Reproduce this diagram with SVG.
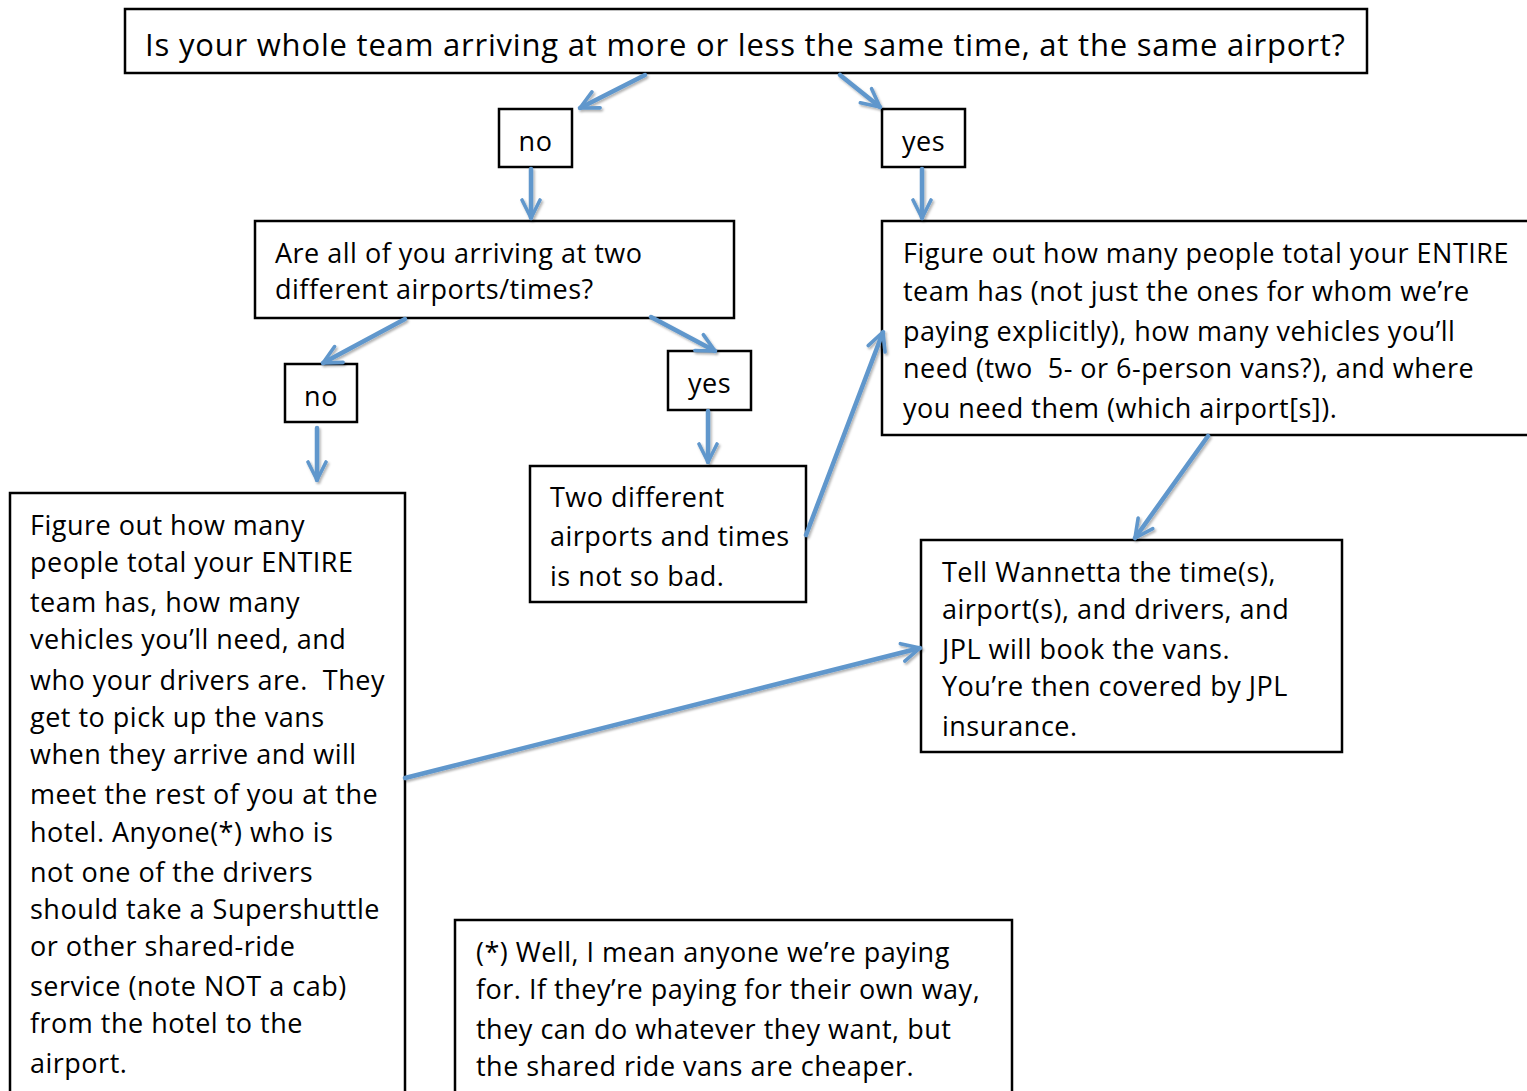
<svg xmlns="http://www.w3.org/2000/svg" width="1527" height="1091" viewBox="0 0 1527 1091">
<style>
.box{fill:#fff;stroke:#000;stroke-width:2.5}
.t{font-family:"Open Sans",Lato,"Liberation Sans",sans-serif;font-size:27px;letter-spacing:0.5px;fill:#000}
.tt{font-size:31px;letter-spacing:0.8px}
.c{stroke:#6097cc;stroke-width:4.5;fill:none;stroke-linecap:round}
</style>
<defs>
<marker id="ah" viewBox="0 0 10 10" refX="9" refY="5" markerWidth="5" markerHeight="5" orient="auto" markerUnits="strokeWidth">
<path d="M1,1 L9,5 L1,9" fill="none" stroke="#6097cc" stroke-width="1.6" stroke-linecap="round" stroke-linejoin="round"/>
</marker>
<filter id="sh" filterUnits="userSpaceOnUse" x="0" y="0" width="1527" height="1091">
<feDropShadow dx="1.5" dy="2" stdDeviation="1.2" flood-color="#000" flood-opacity="0.3"/>
</filter>
</defs>
<rect width="1527" height="1091" fill="#fff"/>
<g id="q1"><rect class="box" x="125" y="9" width="1242" height="64"/><text class="t tt" x="145" y="56">Is your whole team arriving at more or less the same time, at the same airport?</text></g>
<g id="no1"><rect class="box" x="499" y="109" width="73" height="58"/><text class="t" x="535.5" y="151" text-anchor="middle">no</text></g>
<g id="yes1"><rect class="box" x="882" y="109" width="83" height="58"/><text class="t" x="923.5" y="151" text-anchor="middle">yes</text></g>
<g id="q2"><rect class="box" x="255" y="221" width="479" height="97"/><text class="t" x="275" y="263">Are all of you arriving at two</text><text class="t" x="275" y="299">different airports/times?</text></g>
<g id="no2"><rect class="box" x="285" y="364" width="72" height="58"/><text class="t" x="321" y="406" text-anchor="middle">no</text></g>
<g id="yes2"><rect class="box" x="668" y="351" width="83" height="59"/><text class="t" x="709.5" y="393" text-anchor="middle">yes</text></g>
<g id="left"><rect class="box" x="10" y="493" width="395" height="610"/>
<text class="t" xml:space="preserve"><tspan x="30" y="535">Figure out how many</tspan><tspan x="30" y="572">people total your ENTIRE</tspan><tspan x="30" y="612">team has, how many</tspan><tspan x="30" y="649">vehicles you’ll need, and</tspan><tspan x="30" y="690">who your drivers are.  They</tspan><tspan x="30" y="727">get to pick up the vans</tspan><tspan x="30" y="764">when they arrive and will</tspan><tspan x="30" y="804">meet the rest of you at the</tspan><tspan x="30" y="842">hotel. Anyone(*) who is</tspan><tspan x="30" y="882">not one of the drivers</tspan><tspan x="30" y="919">should take a Supershuttle</tspan><tspan x="30" y="956">or other shared-ride</tspan><tspan x="30" y="996">service (note NOT a cab)</tspan><tspan x="30" y="1033">from the hotel to the</tspan><tspan x="30" y="1073">airport.</tspan></text></g>
<g id="two"><rect class="box" x="530" y="466" width="276" height="136"/><text class="t"><tspan x="550" y="507">Two different</tspan><tspan x="550" y="546">airports and times</tspan><tspan x="550" y="586">is not so bad.</tspan></text></g>
<g id="right"><rect class="box" x="882" y="221" width="660" height="214"/><text class="t" xml:space="preserve"><tspan x="903" y="263">Figure out how many people total your ENTIRE</tspan><tspan x="903" y="301">team has (not just the ones for whom we’re</tspan><tspan x="903" y="341">paying explicitly), how many vehicles you’ll</tspan><tspan x="903" y="378">need (two  5- or 6-person vans?), and where</tspan><tspan x="903" y="418">you need them (which airport[s]).</tspan></text></g>
<g id="tell"><rect class="box" x="921" y="540" width="421" height="212"/><text class="t"><tspan x="942" y="582">Tell Wannetta the time(s),</tspan><tspan x="942" y="619">airport(s), and drivers, and</tspan><tspan x="942" y="659">JPL will book the vans.</tspan><tspan x="942" y="696">You’re then covered by JPL</tspan><tspan x="942" y="736">insurance.</tspan></text></g>
<g id="note"><rect class="box" x="455" y="920" width="557" height="190"/><text class="t"><tspan x="476" y="962">(*) Well, I mean anyone we’re paying</tspan><tspan x="476" y="999">for. If they’re paying for their own way,</tspan><tspan x="476" y="1039">they can do whatever they want, but</tspan><tspan x="476" y="1076">the shared ride vans are cheaper.</tspan></text></g>
<g id="connectors" filter="url(#sh)">
<line class="c" x1="645" y1="75" x2="580" y2="108" marker-end="url(#ah)"/>
<line class="c" x1="840" y1="75" x2="880" y2="107" marker-end="url(#ah)"/>
<line class="c" x1="531" y1="169" x2="531" y2="218" marker-end="url(#ah)"/>
<line class="c" x1="922" y1="169" x2="922" y2="218" marker-end="url(#ah)"/>
<line class="c" x1="405" y1="319" x2="323" y2="363" marker-end="url(#ah)"/>
<line class="c" x1="651" y1="317" x2="715" y2="351" marker-end="url(#ah)"/>
<line class="c" x1="317" y1="428" x2="317" y2="480" marker-end="url(#ah)"/>
<line class="c" x1="708" y1="411" x2="708" y2="462" marker-end="url(#ah)"/>
<line class="c" x1="806" y1="535" x2="883" y2="332" marker-end="url(#ah)"/>
<line class="c" x1="1208" y1="436" x2="1135" y2="538" marker-end="url(#ah)"/>
<line class="c" x1="405" y1="778" x2="920" y2="648" marker-end="url(#ah)"/>
</g>
</svg>
